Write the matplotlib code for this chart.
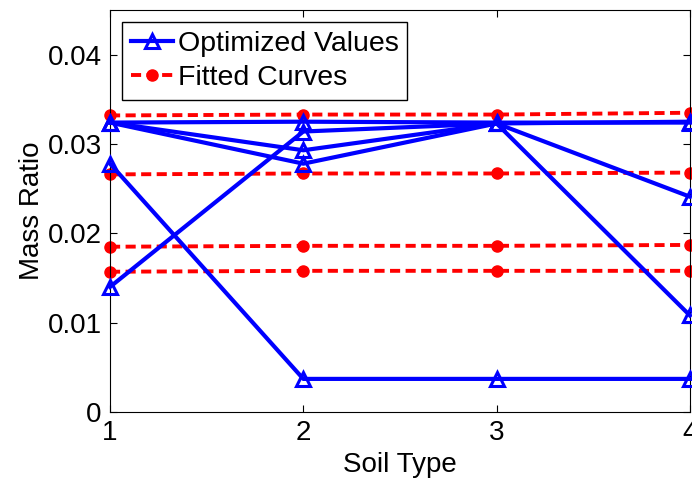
import matplotlib.pyplot as plt

plt.rcParams['font.family'] = ['Liberation Sans', 'DejaVu Sans']

soil_types = [1, 2, 3, 4]

# optimized values (blue, triangles)
optimized = [
    [0.0324, 0.0325, 0.0324, 0.0324],
    [0.0324, 0.0293, 0.0323, 0.0241],
    [0.0324, 0.0278, 0.0323, 0.0108],
    [0.0278, 0.0037, 0.0037, 0.0037],
    [0.0140, 0.0314, 0.0323, 0.0325],
]

# fitted curves (red, dashed, dots)
fitted = [
    [0.0332, 0.0333, 0.0333, 0.0335],
    [0.0266, 0.0267, 0.0267, 0.0268],
    [0.0185, 0.0186, 0.0186, 0.0187],
    [0.0157, 0.0158, 0.0158, 0.0158],
]

yticks = [0, 0.01, 0.02, 0.03, 0.04]
ytick_labels = ['0', '0.01', '0.02', '0.03', '0.04']

fig = plt.figure(figsize=(6.92, 4.79), dpi=100)
ax = fig.add_axes([0.159, 0.140, 0.838, 0.839])

for i, vals in enumerate(fitted):
    ax.plot(soil_types, vals, color='red', linestyle='--', linewidth=2.8,
            dashes=(2.6, 1.4), marker='o', markersize=8, clip_on=False,
            label='Fitted Curves' if i == 0 else None, zorder=2)

for i, vals in enumerate(optimized):
    ax.plot(soil_types, vals, color='blue', linestyle='-', linewidth=3,
            marker='^', markersize=10, markerfacecolor='none',
            markeredgewidth=2.2, clip_on=False,
            label='Optimized Values' if i == 0 else None, zorder=3)

ax.set_xlim(1, 4)
ax.set_ylim(0, 0.045)
ax.set_xticks(soil_types)
ax.set_yticks(yticks)
ax.set_yticklabels(ytick_labels)
ax.tick_params(direction='in', length=5, labelsize=20, top=True, right=True,
               pad=6)
ax.set_xlabel('Soil Type', fontsize=20, labelpad=4)
ax.set_ylabel('Mass Ratio', fontsize=20, labelpad=2)

handles, labels = ax.get_legend_handles_labels()
leg = ax.legend(handles[::-1], labels[::-1], loc='upper left',
                bbox_to_anchor=(0.0207, 0.970), borderaxespad=0,
                prop={'size': 20.5}, fancybox=False, framealpha=1,
                edgecolor='black', handlelength=1.5, handletextpad=0.15,
                borderpad=0.3, labelspacing=0.3)
leg.get_frame().set_linewidth(1.0)

plt.savefig('out.png', dpi=100)
